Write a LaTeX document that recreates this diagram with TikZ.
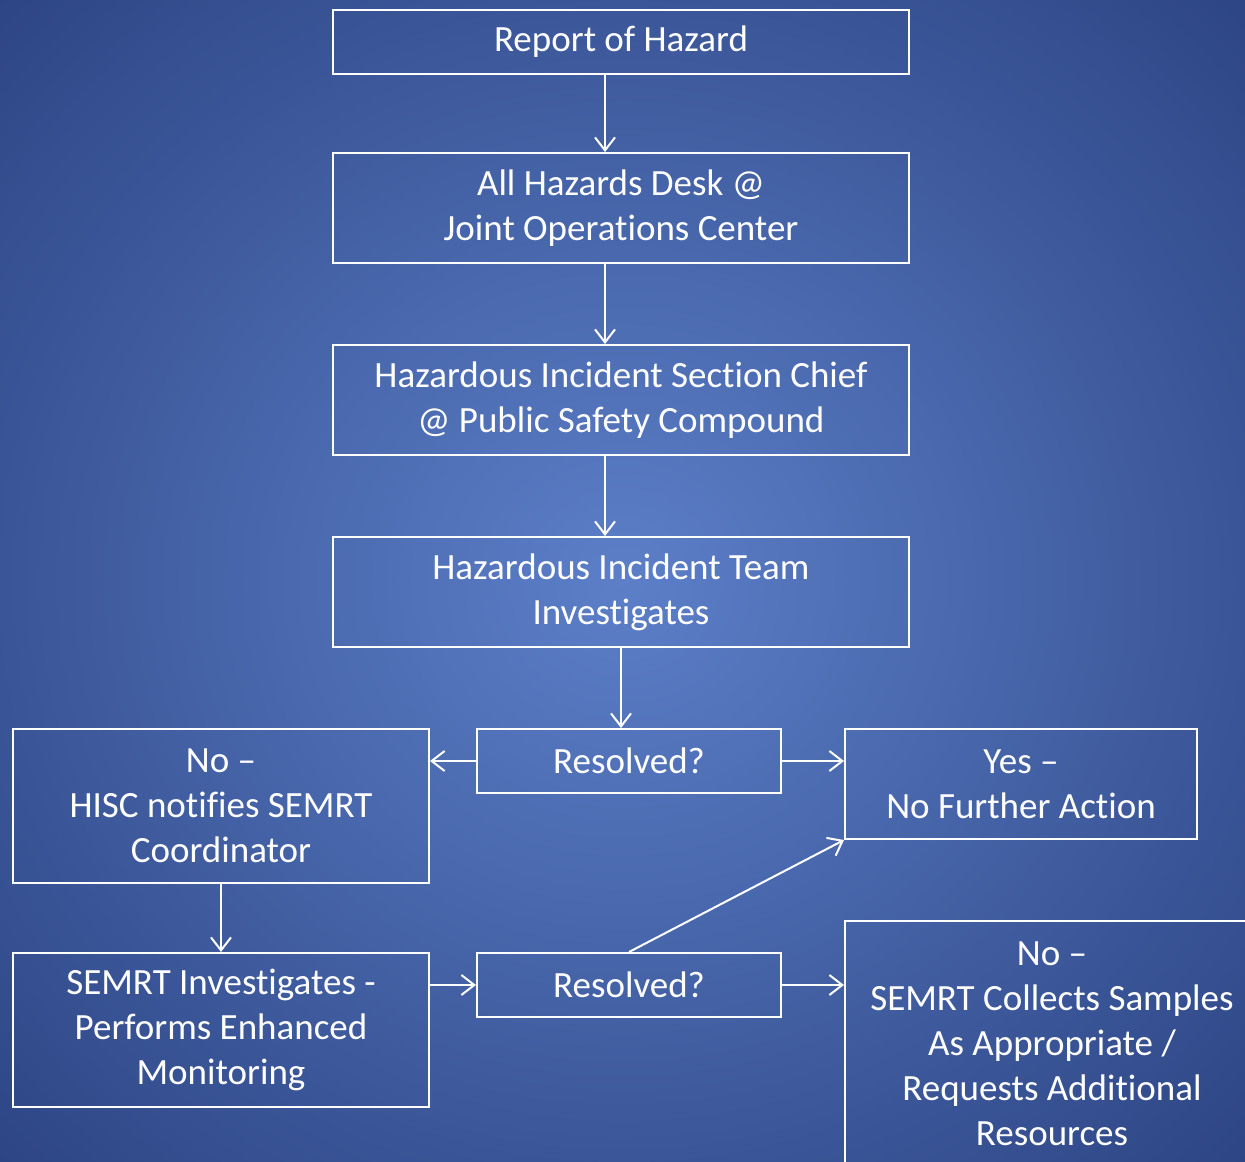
\documentclass[tikz,border=0pt]{standalone}
\usepackage{fontspec}
\setmainfont[Ligatures=NoCommon]{Carlito}
\usetikzlibrary{arrows.meta}
\definecolor{bgin}{HTML}{5C7FC8}
\definecolor{bgout}{HTML}{2D4584}
\begin{document}
\begin{tikzpicture}[x=1pt,y=-1pt,
  box/.style={draw=white,line width=2pt,text=white,align=center,inner sep=0pt,
    font=\fontsize{37}{45}\selectfont},
  conn/.style={draw=white,line width=2pt,-{Straight Barb[length=13pt,width=20pt,line width=2pt]}}]
\useasboundingbox (0,0) rectangle (1245,1162);
\clip (0,0) rectangle (1245,1162);
\shade[inner color=bgin,outer color=bgout] (-250,-250) rectangle (1495,1412);
\node[box,minimum width=576pt,minimum height=64pt] (b1) at (621,42) {Report of Hazard};
\node[box,minimum width=576pt,minimum height=110pt] (b2) at (621,208) {All Hazards Desk @\\Joint Operations Center};
\node[box,minimum width=576pt,minimum height=110pt] (b3) at (621,400) {Hazardous Incident Section Chief\\@ Public Safety Compound};
\node[box,minimum width=576pt,minimum height=110pt] (b4) at (621,592) {Hazardous Incident Team\\Investigates};
\node[box,minimum width=304pt,minimum height=64pt] (r1) at (629,761) {Resolved?};
\node[box,minimum width=352pt,minimum height=110pt] (yes) at (1021,784) {Yes --\\No Further Action};
\node[box,minimum width=416pt,minimum height=154pt] (no1) at (221,806) {No --\\HISC notifies SEMRT\\Coordinator};
\node[box,minimum width=416pt,minimum height=154pt] (sem) at (221,1030) {SEMRT Investigates -\\Performs Enhanced\\Monitoring};
\node[box,minimum width=304pt,minimum height=64pt] (r2) at (629,985) {Resolved?};
\node[box,minimum width=414pt,minimum height=246pt] (no2) at (1052,1044) {No --\\SEMRT Collects Samples\\As Appropriate /\\Requests Additional\\Resources};
\draw[conn] ([xshift=-16pt]b1.south) -- ([xshift=-16pt]b2.north);
\draw[conn] ([xshift=-16pt]b2.south) -- ([xshift=-16pt]b3.north);
\draw[conn] ([xshift=-16pt]b3.south) -- ([xshift=-16pt]b4.north);
\draw[conn] (b4.south) -- (r1.north -| b4.south);
\draw[conn] (r1.west) -- (no1.east |- r1.west);
\draw[conn] (r1.east) -- (yes.west |- r1.east);
\draw[conn] (no1.south) -- (sem.north);
\draw[conn] (sem.east |- r2.west) -- (r2.west);
\draw[conn] (r2.east) -- (no2.west |- r2.east);
\draw[conn] (r2.north) -- (yes.south west);
\end{tikzpicture}
\end{document}
